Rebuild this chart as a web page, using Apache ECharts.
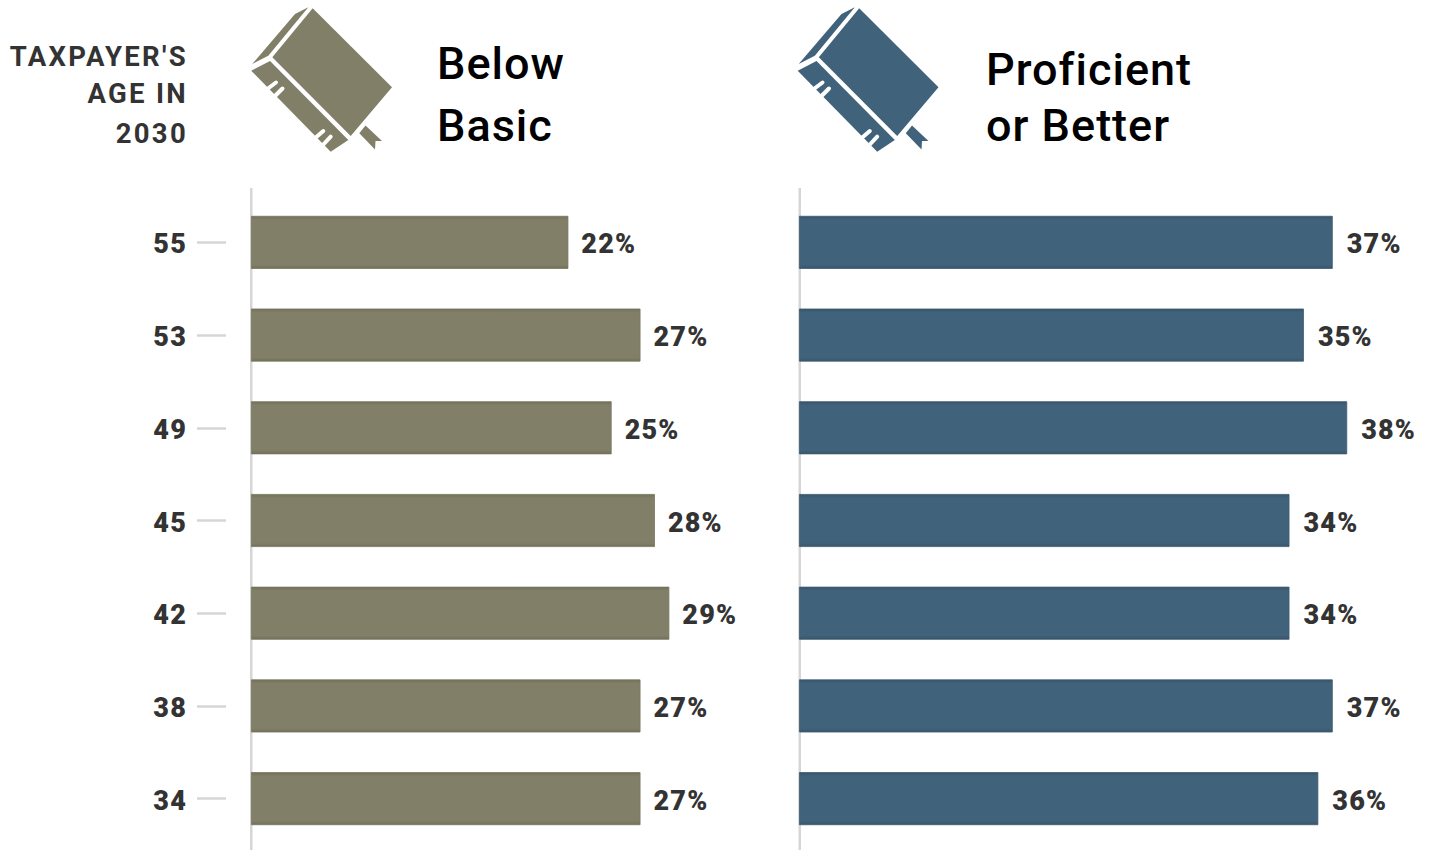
<!DOCTYPE html>
<html>
<head>
<meta charset="utf-8">
<style>
  html, body { margin: 0; padding: 0; background: #fff; }
  #chart { width: 1434px; height: 850px; }
  /* tracked type: the small column heading is spaced wider than the rest */
  #chart text { letter-spacing: 1.2px; }
  #chart text[style*="27.5px"] { letter-spacing: 2.3px; }
  #chart text[style*="45px"] { letter-spacing: 1px; }
</style>
<script src="https://cdn.jsdelivr.net/npm/echarts@6/dist/echarts.min.js"></script>
</head>
<body>
<div id="chart"></div>
<script>
const ages = ['55', '53', '49', '45', '42', '38', '34'];
const belowBasic = [22, 27, 25, 28, 29, 27, 27];
const proficient = [37, 35, 38, 34, 34, 37, 36];

const olive = '#817f68', oliveEdge = '#71705a', oliveSide = '#777660';
const slate = '#41627b', slateEdge = '#385569', slateSide = '#3c5b72';
const inkLabel = '#333333';
const FONT = 'Roboto, "Noto Sans", sans-serif';

const chart = echarts.init(document.getElementById('chart'), null, { renderer: 'svg' });

function barFill(main, edge) {
  return new echarts.graphic.LinearGradient(0, 0, 0, 1, [
    { offset: 0, color: edge },
    { offset: 0.07, color: main },
    { offset: 0.93, color: main },
    { offset: 1, color: edge }
  ]);
}

function barSeries(name, values, axisIndex, main, edge, side, gap) {
  return {
    name, type: 'bar', data: values,
    xAxisIndex: axisIndex, yAxisIndex: axisIndex,
    barWidth: 53,
    itemStyle: { color: barFill(main, edge), borderColor: side, borderWidth: 0.8 },
    label: {
      show: true, position: 'right', distance: gap, offset: [0, 2],
      formatter: '{c}%',
      fontFamily: FONT, fontWeight: 900, fontSize: 27, color: inkLabel
    }
  };
}

// Book glyph shown above each column; dx shifts it to its column.
function bookIcon(color, dx) {
  const poly = pts => ({ type: 'polygon', shape: { points: pts }, style: { fill: color } });
  const notch = (x1, y1, x2, y2) => ({
    type: 'line', shape: { x1, y1, x2, y2 },
    style: { stroke: '#fff', lineWidth: 4, lineCap: 'round' }
  });
  return {
    type: 'group', x: dx, y: 0, silent: true,
    children: [
      poly([[312.7, 8.3], [392, 87.3], [350.7, 136], [272.3, 57.3]]),
      poly([[308.3, 7.3], [295, 14], [252.2, 64], [268.3, 55.7]]),
      poly([[251.2, 70.7], [270, 61], [348.3, 140], [330.7, 151.7]]),
      poly([[365.5, 125.5], [382, 141], [375.5, 141], [375, 149.5], [359.3, 133.3]]),
      notch(266, 90, 276, 82.5),
      notch(273, 98, 282.5, 88.5),
      notch(314, 139, 323.3, 131),
      notch(321, 147, 330.7, 136.7)
    ]
  };
}

function headerText(text, x, y, size, weight, color, align) {
  return {
    type: 'text', x, y, silent: true,
    style: {
      text, fill: color, align, verticalAlign: 'middle',
      font: `${weight} ${size}px ${FONT}`
    }
  };
}

function baseline(x) {
  return {
    type: 'rect', silent: true,
    shape: { x, y: 188, width: 2.5, height: 662 },
    style: { fill: '#d6d6d6' }, z: -1
  };
}

const valueAxis = idx => ({
  type: 'value', gridIndex: idx, min: 0, max: 40, show: false
});

chart.setOption({
  animation: false,
  backgroundColor: '#ffffff',
  grid: [
    { left: 251, top: 196, width: 577, height: 649 },
    { left: 799, top: 196, width: 577, height: 649 },
    // narrow strip that carries the age labels and their ticks
    { left: 226, top: 196, width: 1, height: 649 }
  ],
  xAxis: [valueAxis(0), valueAxis(1), valueAxis(2)],
  yAxis: [
    {
      type: 'category', gridIndex: 0, data: ages, inverse: true,
      axisLine: { show: false }, axisTick: { show: false }, axisLabel: { show: false }
    },
    {
      type: 'category', gridIndex: 1, data: ages, inverse: true,
      axisLine: { show: false }, axisTick: { show: false }, axisLabel: { show: false }
    },
    {
      type: 'category', gridIndex: 2, data: ages, inverse: true,
      axisLine: { show: false },
      axisTick: { show: true, alignWithLabel: true, length: 29, lineStyle: { color: '#d6d6d6', width: 2.5 } },
      axisLabel: {
        margin: 39,
        formatter: '{age|{value}}',
        rich: { age: { padding: [4, 0, 0, 0], fontFamily: FONT, fontWeight: 900, fontSize: 27, color: inkLabel } }
      }
    }
  ],
  series: [
    barSeries('Below Basic', belowBasic, 0, olive, oliveEdge, oliveSide, 13),
    barSeries('Proficient or Better', proficient, 1, slate, slateEdge, slateSide, 14)
  ],
  graphic: { elements: [
    baseline(250), baseline(798.5),
    bookIcon(olive, 0),
    bookIcon(slate, 546.5),
    headerText("TAXPAYER'S", 188, 56.5, 27.5, 700, inkLabel, 'right'),
    headerText('AGE IN', 188, 93.5, 27.5, 700, inkLabel, 'right'),
    headerText('2030', 188, 133.5, 27.5, 700, inkLabel, 'right'),
    headerText('Below', 437, 63, 45, 500, '#000', 'left'),
    headerText('Basic', 437, 125, 45, 500, '#000', 'left'),
    headerText('Proficient', 986, 69, 45, 500, '#000', 'left'),
    headerText('or Better', 986, 125, 45, 500, '#000', 'left')
  ] }
});
</script>
</body>
</html>
